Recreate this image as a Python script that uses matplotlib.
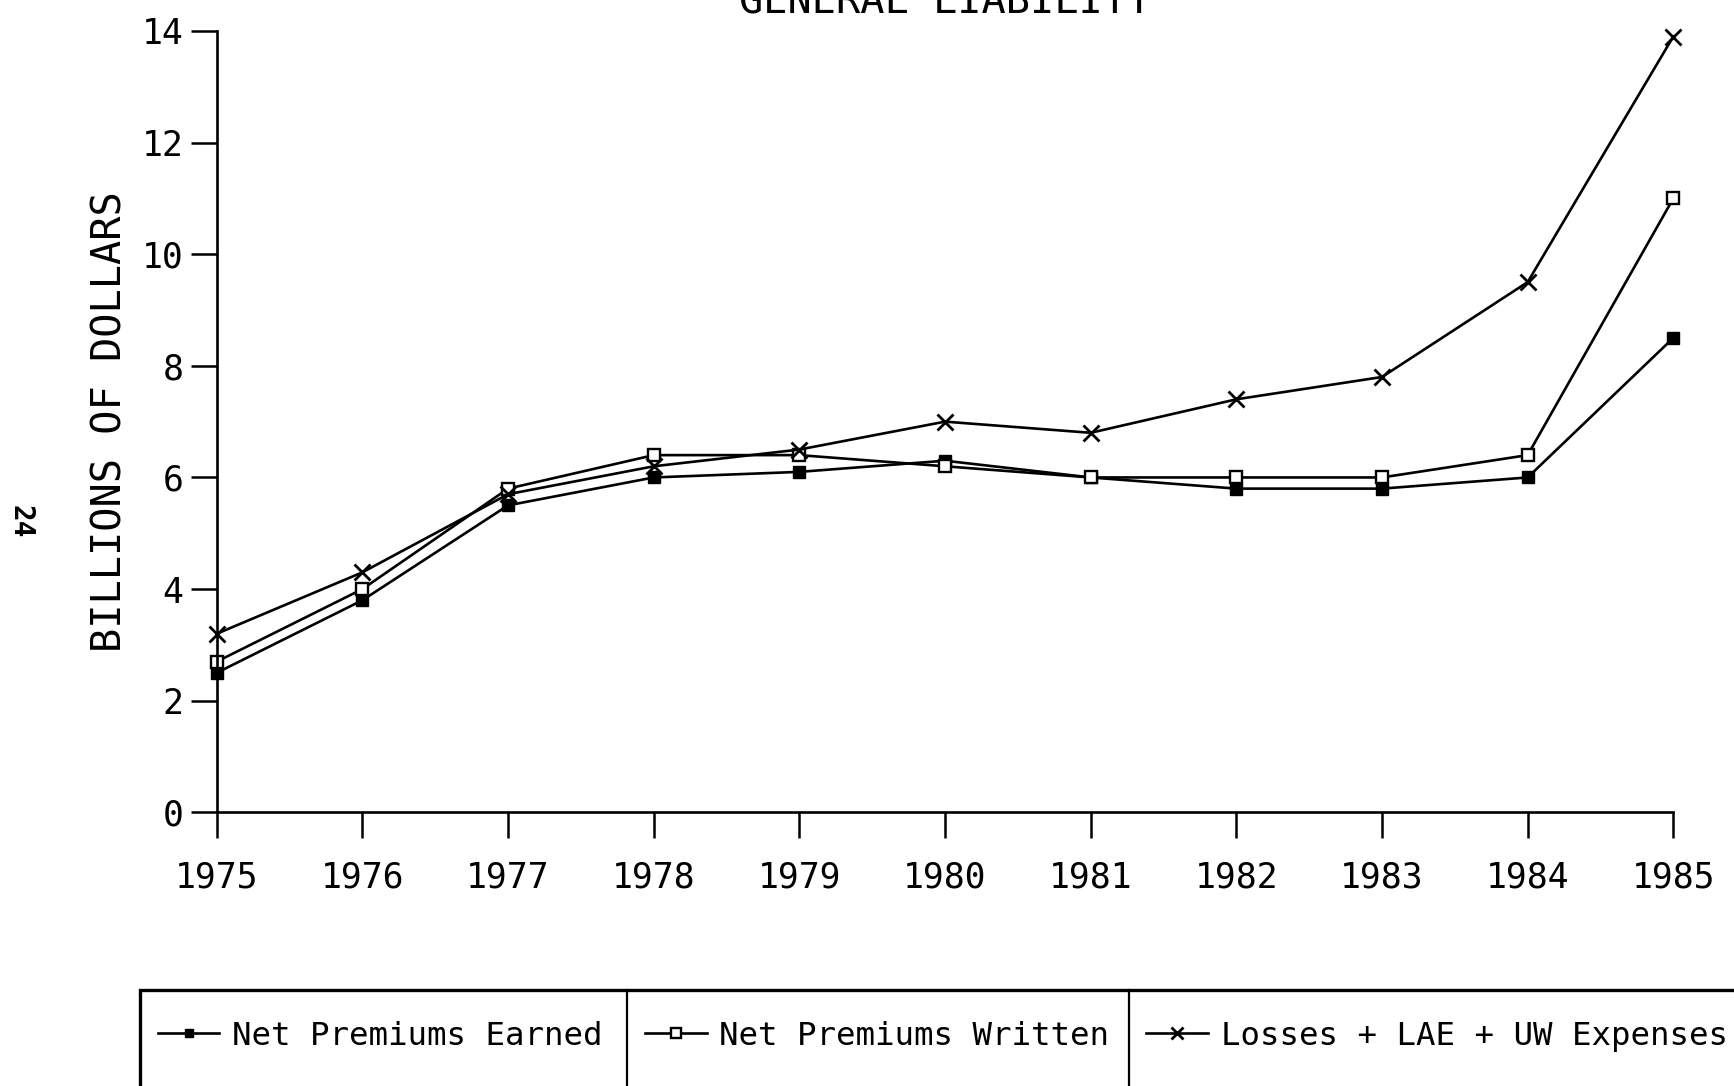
import matplotlib
matplotlib.use("Agg")
import matplotlib.pyplot as plt
from matplotlib.lines import Line2D
from matplotlib.patches import Rectangle

# --- datos (miles de millones de dólares) ---
years = [1975, 1976, 1977, 1978, 1979, 1980, 1981, 1982, 1983, 1984, 1985]
earned = [2.5, 3.8, 5.5, 6.0, 6.1, 6.3, 6.0, 5.8, 5.8, 6.0, 8.5]
written = [2.7, 4.0, 5.8, 6.4, 6.4, 6.2, 6.0, 6.0, 6.0, 6.4, 11.0]
losses = [3.2, 4.3, 5.7, 6.2, 6.5, 7.0, 6.8, 7.4, 7.8, 9.5, 13.9]
y_ticks = [0, 2, 4, 6, 8, 10, 12, 14]
series_names = ["Net Premiums Earned", "Net Premiums Written",
                "Losses + LAE + UW Expenses"]

mono = "DejaVu Sans Mono"
plt.rcParams["font.family"] = mono

fig = plt.figure(figsize=(17.34, 10.86), dpi=100)
ax = fig.add_axes([0.125, 0.252, 0.84, 0.7195])

lw = 1.9
h1, = ax.plot(years, earned, color="black", lw=lw, marker="s", ms=8,
              mfc="black", mec="black", clip_on=False)
h2, = ax.plot(years, written, color="black", lw=lw, marker="s", ms=9,
              mfc="white", mec="black", mew=1.7, clip_on=False)
h3, = ax.plot(years, losses, color="black", lw=lw, marker="x", ms=11,
              mew=2.0, clip_on=False)

ax.set_xlim(1975, 1985)
ax.set_ylim(0, 14)
ax.set_xticks(years)
ax.set_yticks(y_ticks)
ax.tick_params(direction="out", length=19, width=1.8, labelsize=25,
               color="black")
ax.tick_params(axis="x", pad=16)
ax.tick_params(axis="y", pad=5)
for s in ["top", "right"]:
    ax.spines[s].set_visible(False)
for s in ["left", "bottom"]:
    ax.spines[s].set_linewidth(1.9)

ax.set_ylabel("BILLIONS OF DOLLARS", fontsize=29, labelpad=8)

# título cortado en el borde superior del escaneo
fig.text(0.545, 0.988, "GENERAL LIABILITY", ha="center", va="baseline",
         fontsize=29)
# número de página
fig.text(0.012, 0.52, "24", rotation=270, ha="center", va="center",
         fontsize=20, weight="bold")

# --- caja de leyenda con tres celdas ---
box_x0, box_top = 0.0807, 0.0884
fig.patches.append(Rectangle((box_x0, -0.05), 1.0, box_top + 0.05,
                             transform=fig.transFigure, fill=False,
                             lw=2.4, ec="black"))
for xd in [0.3616, 0.651]:
    fig.lines.append(Line2D([xd, xd], [-0.05, box_top],
                            transform=fig.transFigure, color="black", lw=1.6))

cells = [0.091, 0.372, 0.661]
for h, name, xc in zip([h1, h2, h3], series_names, cells):
    fig.legend(handles=[h], labels=[name], loc="center left",
               bbox_to_anchor=(xc, 0.046), frameon=False, fontsize=23.3,
               borderpad=0, borderaxespad=0, handletextpad=0.4,
               handlelength=1.9, markerscale=0.8)

fig.savefig("out.png", dpi=100, facecolor="white")
